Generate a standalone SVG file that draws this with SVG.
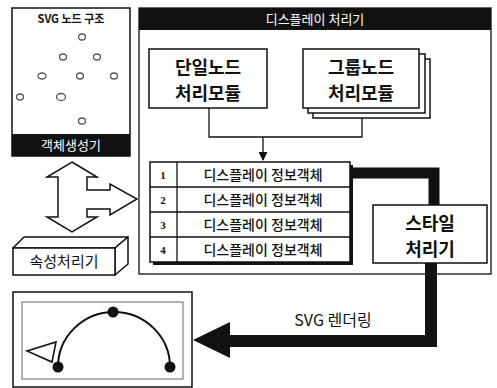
<svg xmlns="http://www.w3.org/2000/svg" width="497" height="388" viewBox="0 0 497 388">
<style>
.k{font-family:"Noto Sans CJK KR","Noto Sans",sans-serif;fill:#111}
.w{fill:#fff}
.b{font-weight:bold}
.box{fill:#fff;stroke:#111;stroke-width:1.5}
.thin{fill:none;stroke:#111;stroke-width:1.3}
.dot{fill:none;stroke:#555;stroke-width:1.3}
.num{font-family:"Liberation Serif",serif;font-weight:bold;font-size:11px;fill:#111}
.row{font-size:14px;font-weight:500}
.big{font-size:18px;font-weight:bold}
</style>
<defs>
<marker id="ah" viewBox="0 0 10 10" refX="9" refY="5" markerWidth="9" markerHeight="9" markerUnits="userSpaceOnUse" orient="auto">
<path d="M0,0 L10,5 L0,10 Z" fill="#111"/>
</marker>
</defs>

<g id="svg-node-structure">
<rect x="12" y="8" width="118" height="148" class="box"/>
<rect x="12" y="134" width="118" height="22" fill="#111"/>
<text x="71" y="23" text-anchor="middle" class="k b" font-size="11">SVG 노드 구조</text>
<ellipse cx="82" cy="37" rx="3.5" ry="3" class="dot"/>
<ellipse cx="63" cy="57" rx="3.5" ry="3" class="dot"/>
<ellipse cx="97" cy="57" rx="3.5" ry="3" class="dot"/>
<ellipse cx="42" cy="76" rx="4" ry="3" class="dot"/>
<ellipse cx="80" cy="76" rx="3.5" ry="3" class="dot"/>
<ellipse cx="114" cy="76" rx="3.5" ry="3" class="dot"/>
<ellipse cx="20" cy="97" rx="3.5" ry="3" class="dot"/>
<ellipse cx="61" cy="97" rx="4.5" ry="3.5" class="dot"/>
<ellipse cx="82" cy="121" rx="3.5" ry="3" class="dot"/>
<text x="71" y="150" text-anchor="middle" class="k w" font-size="13">객체생성기</text>
</g>

<g id="display-processor">
<rect x="139" y="8" width="352" height="266" fill="#fff" stroke="#111" stroke-width="1.3"/>
<rect x="139" y="8" width="352" height="22" fill="#111"/>
<text x="315" y="24" text-anchor="middle" class="k w" font-size="13">디스플레이 처리기</text>
</g>

<g id="single-node-module">
<rect x="149" y="49" width="118" height="59" class="box"/>
<text x="208" y="74" text-anchor="middle" class="k big">단일노드</text>
<text x="208" y="100" text-anchor="middle" class="k big">처리모듈</text>
</g>

<g id="group-node-module">
<rect x="313" y="59" width="117" height="59" class="box"/>
<rect x="308" y="54" width="117" height="59" class="box"/>
<rect x="303" y="49" width="116" height="59" class="box"/>
<text x="361" y="74" text-anchor="middle" class="k big">그룹노드</text>
<text x="361" y="100" text-anchor="middle" class="k big">처리모듈</text>
</g>

<g id="display-info-table">
<rect x="153" y="165" width="200" height="100" fill="#111"/>
<rect x="150" y="162" width="200" height="100" class="box"/>
<line x1="177" y1="162" x2="177" y2="262" stroke="#111" stroke-width="1.3"/>
<line x1="150" y1="187" x2="350" y2="187" stroke="#111" stroke-width="1.3"/>
<line x1="150" y1="212" x2="350" y2="212" stroke="#111" stroke-width="1.3"/>
<line x1="150" y1="237" x2="350" y2="237" stroke="#111" stroke-width="1.3"/>
<text x="163" y="179" text-anchor="middle" class="num">1</text>
<text x="163" y="204" text-anchor="middle" class="num">2</text>
<text x="163" y="229" text-anchor="middle" class="num">3</text>
<text x="163" y="254" text-anchor="middle" class="num">4</text>
<text x="263" y="180" text-anchor="middle" class="k row">디스플레이 정보객체</text>
<text x="263" y="205" text-anchor="middle" class="k row">디스플레이 정보객체</text>
<text x="263" y="230" text-anchor="middle" class="k row">디스플레이 정보객체</text>
<text x="263" y="255" text-anchor="middle" class="k row">디스플레이 정보객체</text>
</g>

<g id="connectors">
<path d="M209,108 V137 H362 V118" class="thin"/>
<path d="M263,137 V160" class="thin" marker-end="url(#ah)"/>
<path d="M353,173 H434 V205" fill="none" stroke="#111" stroke-width="11"/>
<path d="M431,263 V341 H226" fill="none" stroke="#111" stroke-width="12"/>
<polygon points="230,322 193,340 230,358" fill="#111"/>
<polygon points="72,162 97,177 87,177 87,190 110,190 110,184 137,199 110,215 110,209 87,209 87,217 97,217 72,232 47,217 58,217 58,177 47,177" fill="#fff" stroke="#111" stroke-width="1.5" stroke-linejoin="miter"/>
</g>

<g id="style-processor">
<rect x="373" y="205" width="114" height="58" class="box"/>
<text x="430" y="230" text-anchor="middle" class="k big">스타일</text>
<text x="430" y="256" text-anchor="middle" class="k big">처리기</text>
</g>

<text x="333" y="326" text-anchor="middle" class="k" font-size="16">SVG 렌더링</text>

<g id="attribute-processor">
<polygon points="13,248 24,237 128,237 115,248" fill="#fff" stroke="#111" stroke-width="1.5" stroke-linejoin="round"/>
<polygon points="115,248 128,237 128,264 115,275" fill="#fff" stroke="#111" stroke-width="1.5" stroke-linejoin="round"/>
<rect x="13" y="248" width="102" height="27" class="box"/>
<text x="64" y="267" text-anchor="middle" class="k" font-size="15">속성처리기</text>
</g>

<g id="rendered-view">
<rect x="13" y="292" width="179" height="95" class="box"/>
<rect x="22" y="302" width="161" height="77" fill="none" stroke="#666" stroke-width="1"/>
<path d="M58,367 A56,55 0 0 1 170,367" fill="none" stroke="#111" stroke-width="2"/>
<polygon points="27,351 56,342 52,362" fill="#fff" stroke="#111" stroke-width="1.6"/>
<circle cx="58" cy="367" r="5.5" fill="#111"/>
<circle cx="113" cy="312" r="5.5" fill="#111"/>
<circle cx="170" cy="367" r="5.5" fill="#111"/>
</g>
</svg>
